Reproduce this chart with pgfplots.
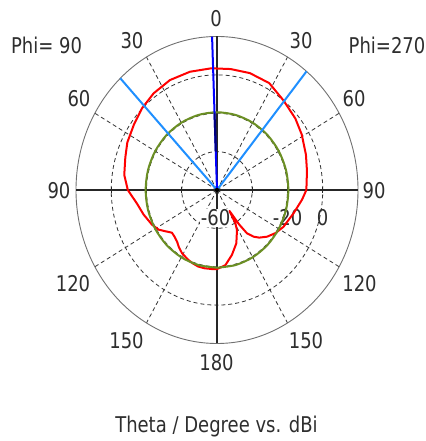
\documentclass[border=0pt]{standalone}
\usepackage{pgfplots}
\pgfplotsset{compat=1.18}
\usepackage{pgfplotstable}
\usepackage{fontspec}
\setmainfont{DejaVu Sans}[FakeStretch=0.9]
\definecolor{gridc}{rgb}{0.2,0.2,0.2}
\definecolor{textc}{rgb}{0.18,0.18,0.18}
\definecolor{lblue}{rgb}{0.12,0.56,1.0}
\definecolor{pblue}{rgb}{0.0,0.0,1.0}
\definecolor{nblue}{rgb}{0.0,0.0,0.5}
\definecolor{olive}{rgb}{0.42,0.56,0.14}
\definecolor{pred}{rgb}{1.0,0.0,0.0}
\newcommand\lab[1]{\scalebox{1}[1.085]{#1}}

% theta (negative = Phi=90 side, positive = Phi=270 side), gain in dBi
\pgfplotstableread{
theta dB
-180 -18.8
-176 -18.7
-170 -18.6
-165 -18.7
-160 -19.4
-156 -20.1
-149 -21.5
-144 -23.2
-140 -24.8
-135 -25.8
-131 -26.1
-126 -23.5
-122 -21.0
-116 -18.9
-107 -16.4
-99 -14.1
-90 -9.4
-81.5 -6.8
-72 -5.3
-64 -3.4
-54 -1.8
-45 0.2
-35.5 1.9
-25 3.2
-14 3.5
-3 3.5
7 3.5
17 3.7
28 3.1
39 0.0
50 -2.0
59 -3.9
70 -6.3
79 -8.0
90 -9.3
96 -11.5
105.6 -14.9
117 -17.7
124 -19.9
130.6 -22.6
136 -25.5
139.5 -28.0
143 -31.7
145 -38.0
147 -47.0
149 -39.8
151.4 -36.3
158.5 -30.1
166 -25.1
173 -20.6
177 -19.6
180 -18.8
}\tblred

\pgfplotstableread{
theta dB
-180 -19.5
-165 -19.5
-150 -19.5
-135 -19.5
-120 -19.5
-105 -19.5
-90 -19.5
-75 -19.5
-60 -19.5
-45 -19.5
-30 -19.5
-15 -19.5
0 -19.5
15 -19.5
30 -19.5
45 -19.5
60 -19.5
75 -19.5
90 -19.5
105 -19.5
120 -19.5
135 -19.5
150 -19.5
165 -19.5
180 -19.5
}\tblgreen

\begin{document}
\begin{tikzpicture}[x=1pt,y=1pt]
% grid (centre 217,251; 20 dB = 35.25 pt horizontally, 38.38 pt vertically)
\begin{scope}[gridc, line width=0.8pt, dash pattern=on 4pt off 3pt]
\draw (217,251) ellipse [x radius=35.25, y radius=38.38];
\draw (217,251) ellipse [x radius=70.5, y radius=76.76];
\draw (217,251) ellipse [x radius=105.75, y radius=115.14];
\foreach \a in {30,60,120,150,210,240,300,330}
  \draw (217,251) -- ++({141*cos(\a)},{153.5*sin(\a)});
\end{scope}
\draw[gridc!70, line width=0.9pt] (217,251) ellipse [x radius=141, y radius=153.5];
\draw[black!85, line width=1.2pt] (76,251) -- (358,251);
\draw[black!85, line width=1.2pt] (217,97.5) -- (217,404.5);
\foreach \r in {35.25,70.5,105.75}{
  \draw[black!85, line width=1pt] (217+\r,248) -- (217+\r,254);
  \draw[black!85, line width=1pt] (217-\r,248) -- (217-\r,254);
}
\begin{scope}[textc, font=\fontsize{20}{24}\selectfont]
\node[fill=white, inner sep=1pt] at (215.5,223) {\lab{-60}};
\node at (287.5,223) {\lab{-20}};
\node at (322.5,223) {\lab{0}};
\node at (216,422) {\lab{0}};
\node at (132,400.5) {\lab{30}};
\node at (301,400.5) {\lab{30}};
\node at (79,342.5) {\lab{60}};
\node at (354,342.5) {\lab{60}};
\node at (59,250.5) {\lab{90}};
\node at (374,250.5) {\lab{90}};
\node at (73,157) {\lab{120}};
\node at (359.5,157) {\lab{120}};
\node at (126.5,100) {\lab{150}};
\node at (306,100) {\lab{150}};
\node at (216.5,78) {\lab{180}};
\node at (46.5,396) {\lab{Phi= 90}};
\node at (387,396) {\lab{Phi=270}};
\node[anchor=base] at (216.5,8.7) {\lab{Theta / Degree vs. dBi}};
\end{scope}

\begin{axis}[at={(217pt,251pt)}, anchor=origin, scale only axis,
  x=1.7625pt, y=1.919pt, xmin=-80, xmax=80, ymin=-80, ymax=80,
  hide axis, clip=false]
\addplot[pred, line width=2pt, data cs=polar, line join=round]
  table[x expr=90-\thisrow{theta}, y expr=\thisrow{dB}+60] {\tblred};
\addplot[olive, line width=2pt, data cs=polar, smooth]
  table[x expr=90-\thisrow{theta}, y expr=\thisrow{dB}+60] {\tblgreen};
\addplot[lblue, line width=2pt, data cs=polar] coordinates {(133.3,0) (133.3,80)};
\addplot[lblue, line width=2pt, data cs=polar] coordinates {(50.6,0) (50.6,80)};
\addplot[pblue, line width=2pt, data cs=polar] coordinates {(92,0) (92,80)};
\addplot[nblue, line width=2pt, data cs=polar] coordinates {(92,20) (92,40)};
\end{axis}
\fill[black] (217,251) circle (2.2);
\pgfresetboundingbox
\path (0,0) rectangle (425,441);
\end{tikzpicture}
\end{document}
